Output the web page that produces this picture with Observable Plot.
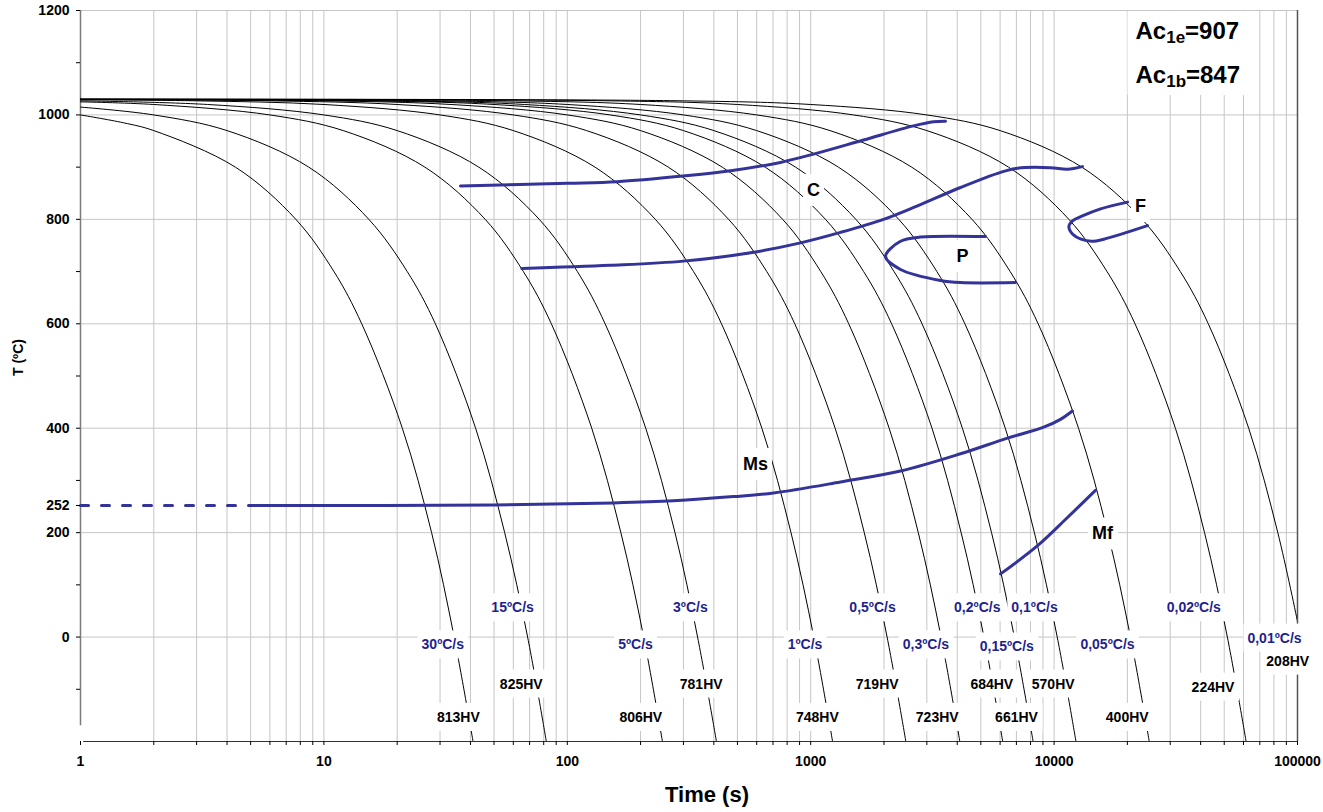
<!DOCTYPE html>
<html><head><meta charset="utf-8">
<script src="https://cdn.jsdelivr.net/npm/d3@7"></script>
<script src="https://cdn.jsdelivr.net/npm/@observablehq/plot@0.6"></script>
<style>body{margin:0;background:#fff}#chart{width:1323px;height:812px}</style>
</head><body><div id="chart"></div>
<script>
// ---- data ----
// cooling curves [time s, temperature ºC]
const coolingCurves = [
  [[1,1000],[1.5,985],[2,970],[4.33,900],[7.67,800],[11,700],[14.3,600],[21,400],[27.7,200],[34.3,0],[41,-200]],
  [[1,1015],[2,1000],[4,970],[8.67,900],[15.3,800],[22,700],[28.7,600],[42,400],[55.3,200],[68.7,0],[82,-200]],
  [[1,1025],[2,1020],[6,1000],[12,970],[26,900],[46,800],[66,700],[86,600],[126,400],[166,200],[206,0],[246,-200]],
  [[1,1027],[3.33,1020],[10,1000],[20,970],[43.3,900],[76.7,800],[110,700],[143,600],[210,400],[277,200],[343,0],[410,-200]],
  [[1,1029],[3,1027],[10,1020],[30,1000],[60,970],[130,900],[230,800],[330,700],[430,600],[630,400],[830,200],[1030,0],[1230,-200]],
  [[1,1029.5],[6,1027],[20,1020],[60,1000],[120,970],[260,900],[460,800],[660,700],[860,600],[1260,400],[1660,200],[2060,0],[2460,-200]],
  [[1,1029.7],[10,1027],[33.3,1020],[100,1000],[200,970],[433,900],[767,800],[1100,700],[1433,600],[2100,400],[2767,200],[3433,0],[4100,-200]],
  [[1,1029.8],[15,1027],[50,1020],[150,1000],[300,970],[650,900],[1150,800],[1650,700],[2150,600],[3150,400],[4150,200],[5150,0],[6150,-200]],
  [[1,1029.85],[20,1027],[66.7,1020],[200,1000],[400,970],[867,900],[1533,800],[2200,700],[2867,600],[4200,400],[5533,200],[6867,0],[8200,-200]],
  [[1,1029.9],[30,1027],[100,1020],[300,1000],[600,970],[1300,900],[2300,800],[3300,700],[4300,600],[6300,400],[8300,200],[10300,0],[12300,-200]],
  [[1,1030],[60,1027],[200,1020],[600,1000],[1200,970],[2600,900],[4600,800],[6600,700],[8600,600],[12600,400],[16600,200],[20600,0],[24600,-200]],
  [[1,1030],[150,1027],[500,1020],[1500,1000],[3000,970],[6500,900],[11500,800],[16500,700],[21500,600],[31500,400],[41500,200],[51500,0],[61500,-200]],
  [[1,1030],[300,1027],[1000,1020],[3000,1000],[6000,970],[13000,900],[23000,800],[33000,700],[43000,600],[63000,400],[83000,200],[100000,30]]
];
const rateLabels = ["30ºC/s","15ºC/s","5ºC/s","3ºC/s","1ºC/s","0,5ºC/s","0,3ºC/s","0,2ºC/s","0,15ºC/s","0,1ºC/s","0,05ºC/s","0,02ºC/s","0,01ºC/s"];
const rateLabelTime = [30.8,59.6,190.6,320.2,947.5,1795,2976,4833,6393,8309,16570,37500,80460];
const rateLabelTemp = [-15,56,-15,56,-15,56,-15,56,-19,56,-15,56,-2];
const hardnessLabels = ["813HV","825HV","806HV","781HV","748HV","719HV","723HV","684HV","661HV","570HV","400HV","224HV","208HV"];
const hardnessTime = [35.7,64.7,200.4,354.9,1065,1876,3310,5547,7007,9916,19970,44960,91160];
const hardnessTemp = [-154,-90,-154,-90,-154,-90,-154,-90,-154,-90,-154,-96,-46];
// transformation lines
const cUpper = [[36.4,864],[100,869],[160,872],[300,883],[469,893],[751,909],[1027,925],[1648,952],[2644,979],[3196,987],[3580,988]];
const cLower = [[65,706],[150,712],[300,720],[566,736],[908,755],[1325,775],[1991,800],[2748,826],[4126,861],[6026,890],[7075,898],[9663,899],[11350,896],[13080,901]];
const pLoop = [[5227,767],[2827,766],[2339,758],[2030,729],[2339,704],[3414,683],[4126,679],[6939,679]];
const fLoop = [[20030,833],[15520,820],[13000,806],[11900,797],[11500,786],[11900,772],[12900,762],[14300,758],[16000,762],[24200,788]];
const msLine = [[5,252],[50,253],[155,257],[273,261],[482,269],[703,276],[1325,297],[2339,318],[4126,351],[6430,381],[9060,402],[10620,417],[11890,433]];
const msDashed = [[1,252],[5,252]];
const mfLine = [[6026,121],[8550,175],[11350,229],[14790,281]];
const phaseLabels = ["C","P","F","Ms","Mf"];
const phaseTime = [1027,4205,22650,593,15810];
const phaseTemp = [856,729,825,331,198];
const acMain = ["Ac","Ac"];
const acSub = ["1e","1b"];
const acValue = ["=907","=847"];
const acTime = [21600,21600];
const acTemp = [1145,1061];
const yTickValues = [0,200,252,400,600,800,1000,1200];
const yMinorTicks = [-100,100,300,500,700,900,1100];
const yGridValues = [0,200,400,600,800,1000,1200];
const xTickLabels = [1,10,100,1000,10000,100000];

// ---- chart ----
const BLUE = "#333399";
const LABEL_BLUE = "#1f1f8f";
const xMinor = [];
for (const p of [1,10,100,1000,10000]) for (let m = 1; m <= 9; m++) xMinor.push(m * p);
xMinor.push(100000);
const curveRows = coolingCurves.flatMap((pts, i) => pts.map(([t, T]) => ({curve: i, t, T})));
const blueLine = (pts, extra = {}) => Plot.line(pts, {x: d => d[0], y: d => d[1], curve: "catmull-rom", stroke: BLUE, strokeWidth: 3, ...extra});
const bold = {fontWeight: "bold"};

const acMarks = [];
acMain.forEach((m, i) => {
  const row = [i];
  const mainW = 30.7;
  const subW = acSub[i] === "1e" ? 18.9 : 19.8;
  acMarks.push(Plot.text(row, {x: j => acTime[j], y: j => acTemp[j], text: j => acMain[j], textAnchor: "start", lineAnchor: "bottom", fontSize: 24, ...bold}));
  acMarks.push(Plot.text(row, {x: j => acTime[j], y: j => acTemp[j], text: j => acSub[j], textAnchor: "start", lineAnchor: "bottom", fontSize: 17, dx: mainW, dy: 4, ...bold}));
  acMarks.push(Plot.text(row, {x: j => acTime[j], y: j => acTemp[j], text: j => acValue[j], textAnchor: "start", lineAnchor: "bottom", fontSize: 24, dx: mainW + subW, ...bold}));
});

const chart = Plot.plot({
  width: 1323, height: 812,
  marginLeft: 80, marginRight: 26, marginTop: 10, marginBottom: 71,
  x: {type: "log", domain: [1, 100000], label: null},
  y: {domain: [-200, 1200], label: null},
  style: {fontFamily: "'Liberation Sans', Arial, sans-serif", fontSize: "14px", color: "#000", background: "#fff"},
  marks: [
    Plot.gridX({ticks: xMinor.filter(d => d > 1 && d < 100000), stroke: "#c6c6c6", strokeOpacity: 1}),
    Plot.gridY({ticks: yGridValues, stroke: "#c6c6c6", strokeOpacity: 1}),
    Plot.ruleX([100000], {stroke: "#555", strokeWidth: 1.5}),
    Plot.ruleX([1], {y1: -170, y2: 1200, stroke: "#7a7a7a", strokeWidth: 1.5}),
    Plot.ruleY([-200], {x1: 1.03, x2: 100000, stroke: "#333", strokeWidth: 1.2}),
    Plot.line(curveRows, {x: "t", y: "T", z: "curve", curve: "catmull-rom", stroke: "#000", strokeWidth: 1, clip: true}),
    blueLine(cUpper), blueLine(cLower), blueLine(pLoop), blueLine(fLoop),
    blueLine(msLine), blueLine(msDashed, {strokeDasharray: "8,13", curve: "linear"}), blueLine(mfLine),
    Plot.axisX({ticks: xMinor, tickSize: 4, tickPadding: 11, tickFormat: d => xTickLabels.includes(d) ? String(d) : "", fontSize: 14, ...bold, label: null}),
    Plot.axisY({ticks: yTickValues, tickSize: 4, tickPadding: 7, tickFormat: d => String(d), fontSize: 14, ...bold, label: null}),
    Plot.axisY({ticks: yMinorTicks, tickSize: 4, tickFormat: () => "", label: null}),
    Plot.text(["Time (s)"], {frameAnchor: "bottom", dx: 18, dy: 60, lineAnchor: "bottom", fontSize: 22, ...bold}),
    Plot.text(["T (ºC)"], {frameAnchor: "left", dx: -62, rotate: -90, fontSize: 14, ...bold}),
    Plot.text(rateLabels, {x: (d, i) => rateLabelTime[i], y: (d, i) => rateLabelTemp[i], text: d => d, fill: LABEL_BLUE, fontSize: 14, ...bold}),
    Plot.text(hardnessLabels, {x: (d, i) => hardnessTime[i], y: (d, i) => hardnessTemp[i], text: d => d, fontSize: 14, ...bold}),
    Plot.text(phaseLabels, {x: (d, i) => phaseTime[i], y: (d, i) => phaseTemp[i], text: d => d, fontSize: 18, ...bold}),
    ...acMarks
  ]
});
document.getElementById("chart").append(chart);

// white label boxes behind texts inside the plot
(function addBoxes() {
  const svg = chart.tagName.toLowerCase() === "svg" ? chart : chart.querySelector("svg");
  const sr = svg.getBoundingClientRect();
  const groups = Array.from(svg.querySelectorAll('g[aria-label="text"]'));
  if (!groups.length) return;
  const ns = "http://www.w3.org/2000/svg";
  const boxG = document.createElementNS(ns, "g");
  const acSet = new Set([...acMain, ...acSub, ...acValue]);
  let ac = null;
  const addRect = (x, y, w, h) => {
    const r = document.createElementNS(ns, "rect");
    r.setAttribute("x", x); r.setAttribute("y", y);
    r.setAttribute("width", w); r.setAttribute("height", h);
    r.setAttribute("fill", "#fff");
    boxG.appendChild(r);
  };
  for (const g of groups) {
    for (const t of g.querySelectorAll("text")) {
      const b = t.getBoundingClientRect();
      const x = b.left - sr.left, y = b.top - sr.top;
      if (acSet.has(t.textContent)) {
        if (!ac) ac = {x0: x, y0: y, x1: x + b.width, y1: y + b.height};
        else { ac.x0 = Math.min(ac.x0, x); ac.y0 = Math.min(ac.y0, y); ac.x1 = Math.max(ac.x1, x + b.width); ac.y1 = Math.max(ac.y1, y + b.height); }
        continue;
      }
      addRect(x - 4, y - 6, b.width + 8, b.height + 12);
    }
  }
  if (ac) addRect(ac.x0 - 8, ac.y0 - 6, ac.x1 - ac.x0 + 16, ac.y1 - ac.y0 + 10);
  svg.insertBefore(boxG, groups[0]);
})();
</script></body></html>
